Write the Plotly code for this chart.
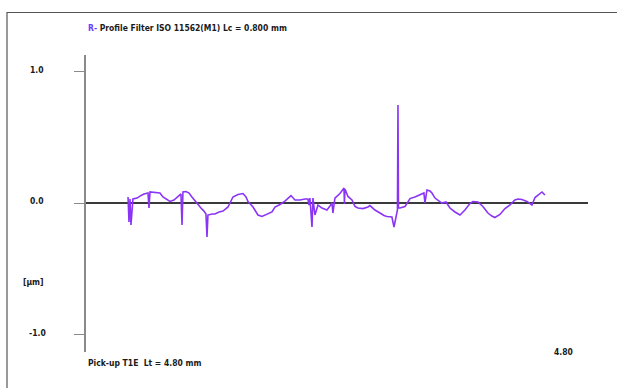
import plotly.graph_objects as go

# Filtered roughness profile (R-profile), x in mm along traverse, z in micrometres
x_mm = [0.402, 0.411, 0.421, 0.430, 0.449, 0.488, 0.516, 0.554, 0.593, 0.602,
        0.612, 0.660, 0.707, 0.736, 0.774, 0.803, 0.841, 0.880, 0.908, 0.918,
        0.927, 0.956, 0.985, 1.013, 1.042, 1.071, 1.099, 1.128, 1.147, 1.157,
        1.166, 1.205, 1.233, 1.272, 1.310, 1.358, 1.377, 1.405, 1.453, 1.501,
        1.530, 1.549, 1.597, 1.625, 1.644, 1.683, 1.730, 1.778, 1.807, 1.855,
        1.902, 1.931, 1.960, 1.998, 2.046, 2.094, 2.122, 2.132, 2.141, 2.161,
        2.170, 2.189, 2.218, 2.256, 2.304, 2.333, 2.352, 2.361, 2.380, 2.428,
        2.457, 2.467, 2.471, 2.476, 2.505, 2.543, 2.572, 2.600, 2.648, 2.696,
        2.715, 2.763, 2.811, 2.849, 2.878, 2.925, 2.945, 2.964, 2.978, 2.983,
        2.988, 3.002, 3.050, 3.078, 3.098, 3.145, 3.193, 3.231, 3.241, 3.260,
        3.289, 3.308, 3.337, 3.365, 3.403, 3.442, 3.480, 3.528, 3.576, 3.623,
        3.671, 3.700, 3.748, 3.795, 3.843, 3.881, 3.910, 3.958, 4.006, 4.054,
        4.101, 4.130, 4.168, 4.216, 4.264, 4.293, 4.321, 4.360, 4.388]
z_um = [0.048, -0.142, 0.033, -0.165, 0.033, 0.040, 0.055, 0.071, 0.078, -0.036,
        0.086, 0.082, 0.078, 0.048, 0.025, 0.014, 0.025, 0.048, 0.071, -0.165,
        0.086, 0.090, 0.078, 0.048, 0.017, -0.013, -0.036, -0.059, -0.081, -0.256,
        -0.089, -0.081, -0.081, -0.066, -0.059, -0.028, 0.002, 0.048, 0.067, 0.074,
        0.048, 0.014, -0.028, -0.066, -0.089, -0.100, -0.085, -0.066, -0.028, -0.009,
        0.017, 0.040, 0.059, 0.025, 0.025, 0.033, 0.033, -0.013, 0.040, -0.180,
        0.040, -0.089, -0.013, -0.036, -0.051, -0.020, 0.002, -0.074, 0.040, 0.074,
        0.109, 0.116, -0.005, 0.109, 0.052, 0.025, -0.024, -0.036, -0.040, -0.028,
        -0.017, -0.051, -0.074, -0.093, -0.100, -0.104, -0.180, -0.089, -0.051, 0.747,
        -0.036, -0.036, -0.024, 0.010, 0.036, 0.048, 0.063, 0.078, 0.002, 0.101,
        0.093, 0.078, 0.040, 0.025, 0.002, 0.010, -0.036, -0.066, -0.089, -0.051,
        -0.002, 0.014, 0.010, -0.024, -0.074, -0.097, -0.108, -0.085, -0.040, -0.013,
        0.025, 0.033, 0.029, 0.014, -0.013, 0.044, 0.063, 0.086, 0.063]

y_ticks = [1.0, 0.0, -1.0]
y_tick_labels = ["1.0", "0.0", "-1.0"]
x_end_label = "4.80"
title_prefix = "R-"
title_text = "Profile Filter ISO 11562(M1) Lc = 0.800 mm"
footer_text = "Pick-up T1E  Lt = 4.80 mm"
unit_label = "[\u00b5m]"

FONT = "DejaVu Sans Condensed, Liberation Sans Narrow, Arial Narrow, Liberation Sans, sans-serif"
PURPLE = "#8a35f5"
TXT = dict(family=FONT, size=8.5, color="#1a1a1a")

# plot area in pixels: left 86, right 588, top 55, bottom 352
PW, PH = 502, 297

fig = go.Figure()
fig.add_trace(go.Scatter(
    x=x_mm, y=z_um, mode="lines",
    line=dict(color=PURPLE, width=1.6),
    hoverinfo="skip", showlegend=False,
))

fig.update_layout(
    width=617, height=388,
    margin=dict(l=86, r=29, t=55, b=36),
    paper_bgcolor="white", plot_bgcolor="white",
    font=TXT,
    xaxis=dict(range=[0, 4.8], showgrid=False, zeroline=False,
               showline=False, showticklabels=False, ticks=""),
    yaxis=dict(range=[-1.130, 1.127], showgrid=False,
               zeroline=True, zerolinecolor="#3a3a3a", zerolinewidth=1.5,
               showline=True, linecolor="#8a8a8a", linewidth=1.5,
               ticks="outside", tickvals=y_ticks, ticklen=10,
               tickcolor="#8a8a8a", tickwidth=1.2,
               showticklabels=False),
)

# y tick labels placed to the left of the ticks
for v, lab in zip(y_ticks, y_tick_labels):
    fig.add_annotation(x=0, xref="paper", xshift=-49, y=v, yref="y", yshift=2,
                       text="<b>%s</b>" % lab, showarrow=False,
                       xanchor="center", yanchor="middle", font=TXT)

fig.add_annotation(x=0, xref="paper", xshift=-53,
                   y=(352 - 282) / PH, yref="paper",
                   text="<b>%s</b>" % unit_label, showarrow=False,
                   xanchor="center", yanchor="middle", font=TXT)

# header and footer text
fig.add_annotation(x=0, xref="paper", y=(352 - 28) / PH, yref="paper",
                   text="<b><span style='color:#6a3cff'>%s</span> %s</b>" % (title_prefix, title_text),
                   showarrow=False, xanchor="left", yanchor="middle", font=TXT)
fig.add_annotation(x=0, xref="paper", y=(352 - 363) / PH, yref="paper",
                   text="<b>%s</b>" % footer_text,
                   showarrow=False, xanchor="left", yanchor="middle", font=TXT)
fig.add_annotation(x=4.8, xref="x", xshift=-25, y=0, yref="paper",
                   text="<b>%s</b>" % x_end_label,
                   showarrow=False, xanchor="center", yanchor="middle", font=TXT)

# window frame: left and top edges
frame = dict(color="#555555", width=1.2)
fig.add_shape(type="line", xref="paper", yref="paper",
              x0=-79 / PW, x1=-79 / PW, y0=-36 / PH, y1=(352 - 12) / PH, line=frame)
fig.add_shape(type="line", xref="paper", yref="paper",
              x0=-79 / PW, x1=531 / PW, y0=(352 - 12.5) / PH, y1=(352 - 12.5) / PH, line=frame)

fig.write_html("out.html")
